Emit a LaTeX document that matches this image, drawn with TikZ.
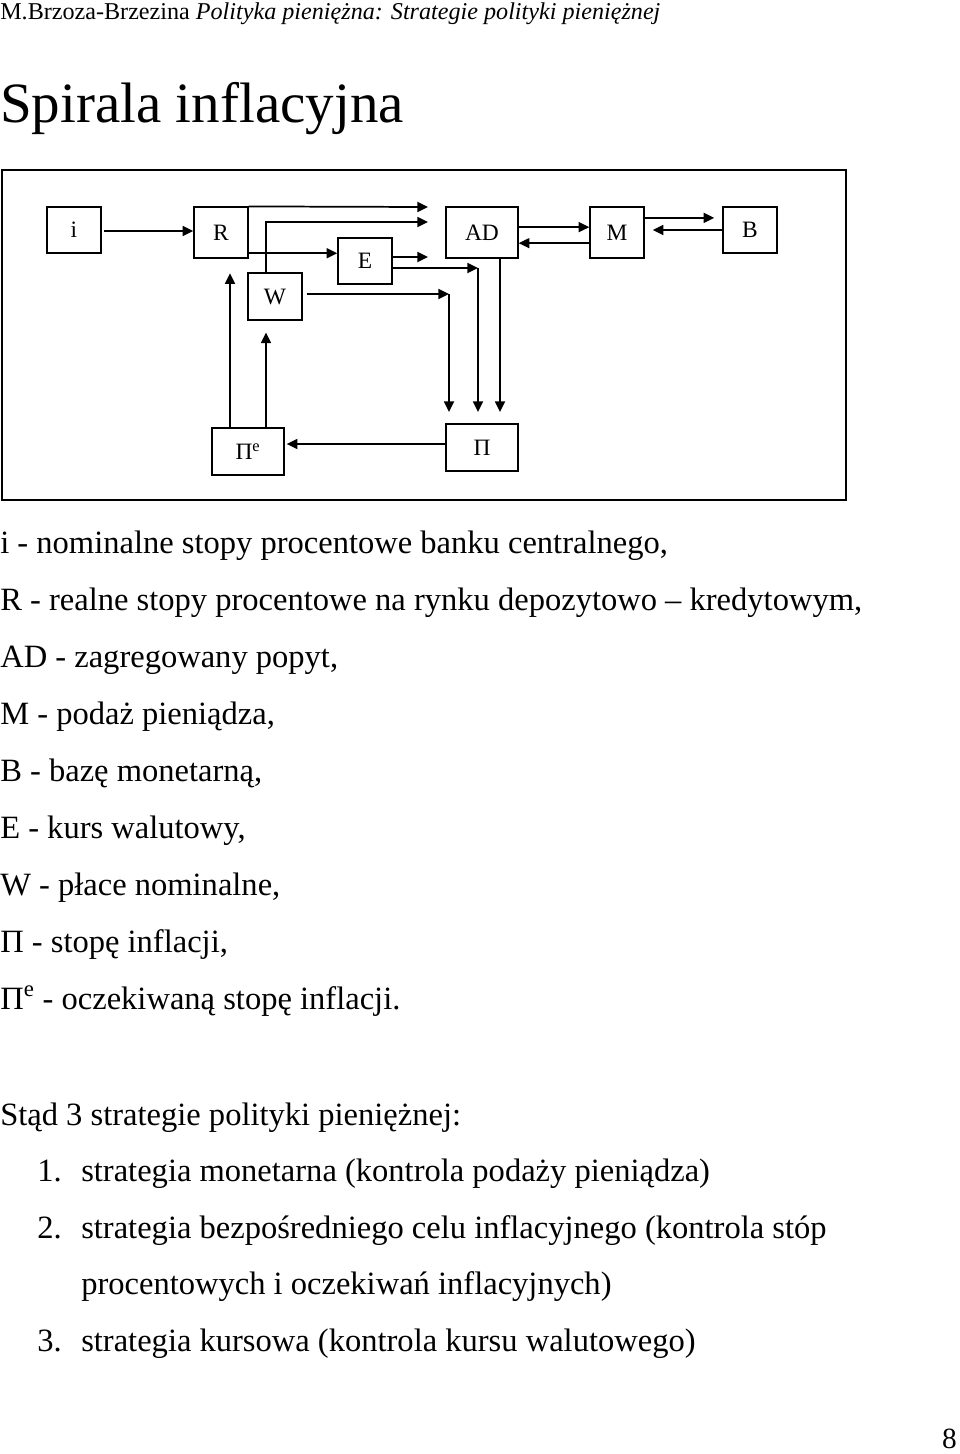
\documentclass[tikz,border=0pt]{standalone}
\usepackage{fontspec}
\setmainfont{Liberation Serif}
\usetikzlibrary{arrows.meta,positioning,calc}

\begin{document}
\begin{tikzpicture}[
    x=0.75pt, y=-0.75pt,
    box/.style={rectangle, draw, line width=1.1pt, minimum width=40.5pt, minimum height=36pt, inner sep=0pt, font=\fontsize{17.6}{20}\selectfont},
    widebox/.style={box, minimum width=54pt},
    arrow/.style={->, >={Triangle[length=8pt,width=7.5pt]}, line width=1.3pt},
    legend/.style={anchor=base west, inner sep=0pt, font=\fontsize{24.4}{29}\selectfont}
]
    \useasboundingbox (0,0) rectangle (960,1454);

    % header and title
    \node[anchor=base west, inner sep=0pt, font=\fontsize{18.1}{21}\selectfont] (head) at (0,19) {M.Brzoza-Brzezina \textit{Polityka pieniężna: Strategie polityki pieniężnej}};
    \node[anchor=base west, inner sep=0pt, font=\fontsize{42.75}{50}\selectfont] (title) at (0,122) {Spirala inflacyjna};

    % frame
    \draw[line width=1.6pt] (2,170) rectangle (846,500);

    % boxes
    \node[box, minimum height=34.5pt] (i) at (74,230) {i};
    \node[box, minimum height=38pt] (R) at (221,232.5) {R};
    \node[box, minimum height=34.5pt] (E) at (365,261) {E};
    \node[box, minimum height=35pt] (W) at (275,296.5) {W};
    \node[widebox, minimum height=38pt] (AD) at (482,232.5) {AD};
    \node[box, minimum height=38pt] (M) at (617,232.5) {M};
    \node[box, minimum height=34.5pt] (B) at (750,230) {B};
    \node[widebox, minimum height=35pt] (Pe) at (248,451.5) {Π\textsuperscript{e}};
    \node[widebox, minimum height=35pt] (Pi) at (482,447.5) {Π};

    % free ends
    \coordinate (rtop) at (428,207);
    \coordinate (wtop) at (428,222);
    \coordinate (etip) at (428,257);
    \coordinate (ecorner) at (478,268);
    \coordinate (wcorner) at (449,294);
    \coordinate (pin) at (482,412);

    % connectors
    \draw[arrow] ([xshift=2pt]i.east |- 0,231) -- (R.west |- 0,231);
    \draw[arrow] (R.north east) -- (rtop);
    \draw[arrow] ([xshift=-6.75pt]W.north) |- (wtop);
    \draw[arrow] ([yshift=4pt]R.south east) coordinate (re) -- (re -| E.west);
    \draw[arrow] (E.east |- etip) -- (etip);
    \draw[arrow] (E.east |- ecorner) -- (ecorner);
    \draw[arrow] (ecorner) -- (ecorner |- pin);
    \draw[arrow] ([xshift=3pt]W.east |- wcorner) -- (wcorner);
    \draw[arrow] (wcorner) -- (wcorner |- pin);
    \draw[arrow] ([xshift=13.5pt]AD.south) coordinate (ad) -- (ad |- pin);
    \draw[arrow] ([yshift=4pt]AD.east) -- ([yshift=4pt]M.west);
    \draw[arrow] ([yshift=-8pt]M.west) -- ([yshift=-8pt]AD.east);
    \draw[arrow] ([xshift=-1.5pt,yshift=11pt]M.east) coordinate (mb) -- ([xshift=-6pt]mb -| B.west);
    \draw[arrow] (B.west) -- ([xshift=6pt]B.west -| M.east);
    \draw[arrow] ([xshift=-13.5pt]Pe.north) coordinate (pr) -- ([yshift=-11pt]pr |- R.south);
    \draw[arrow] ([xshift=13.5pt]Pe.north) coordinate (pw) -- ([yshift=-9pt]pw |- W.south);
    \draw[arrow] ([yshift=2.6pt]Pi.west) coordinate (pp) -- ([xshift=1.5pt]pp -| Pe.east);

    % legend
    \node[legend] (l1) at (0,553) {i - nominalne stopy procentowe banku centralnego,};
    \node[legend] (l2) at (0,610) {R - realne stopy procentowe na rynku depozytowo -- kredytowym,};
    \node[legend] (l3) at (0,667) {AD - zagregowany popyt,};
    \node[legend] (l4) at (0,724) {M - podaż pieniądza,};
    \node[legend] (l5) at (0,781) {B - bazę monetarną,};
    \node[legend] (l6) at (0,838) {E - kurs walutowy,};
    \node[legend] (l7) at (0,895) {W - płace nominalne,};
    \node[legend] (l8) at (0,952) {Π - stopę inflacji,};
    \node[legend] (l9) at (0,1009) {Π\textsuperscript{e} - oczekiwaną stopę inflacji.};

    % strategies
    \node[legend] (s0) at (0,1125) {Stąd 3 strategie polityki pieniężnej:};
    \node[legend] (n1) at (37,1181.5) {1.};
    \node[legend] (s1) at (81,1181.5) {strategia monetarna (kontrola podaży pieniądza)};
    \node[legend] (n2) at (37,1238) {2.};
    \node[legend] (s2) at (81,1238) {strategia bezpośredniego celu inflacyjnego (kontrola stóp};
    \node[legend] (s2b) at (81,1294.5) {procentowych i oczekiwań inflacyjnych)};
    \node[legend] (n3) at (37,1351) {3.};
    \node[legend] (s3) at (81,1351) {strategia kursowa (kontrola kursu walutowego)};

    \node[anchor=base east, inner sep=0pt, font=\fontsize{22}{26}\selectfont] (page) at (957,1448) {8};
\end{tikzpicture}
\end{document}
